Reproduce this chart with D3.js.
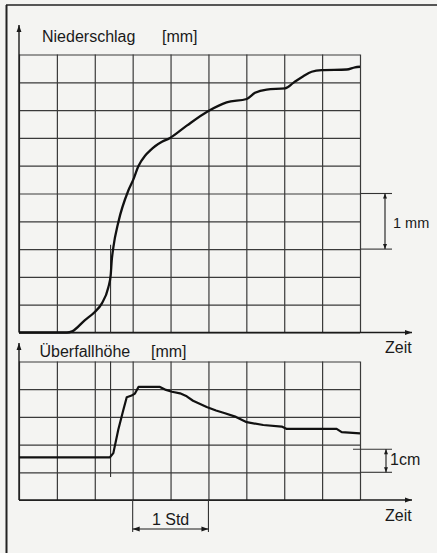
<!doctype html>
<html>
<head>
<meta charset="UTF-8">
<title>Niederschlag / Überfallhöhe</title>
<script src="https://cdn.jsdelivr.net/npm/d3@7"></script>
<style>
  body { margin: 0; background: #f4f4f2; }
  svg { display: block; }
  text { font-family: "Liberation Sans", Arial, sans-serif; fill: #1a1a1a; }
  .grid line { stroke: #3a3a3a; stroke-width: 1.2; }
  .grid path { display: none; }
</style>
</head>
<body>
<div id="chart"></div>
<script>
    // time in minutes, grid every 30 min (1 Std = 2 columns)
    var timeGrid = [0, 30, 60, 90, 120, 150, 180, 210, 240, 270];
    var rainGrid = [0, 0.5, 1, 1.5, 2, 2.5, 3, 3.5, 4, 4.5, 5];      // mm
    var levelGrid = [0, 12, 24, 36, 48, 60];                          // mm

    // Niederschlag (cumulative, mm)
    var rainTime = [0, 38, 42, 52, 60, 65.5, 70.7, 72.6, 73.4, 74.7, 78.6, 86.5, 90.5, 94.5, 99.8, 103.7, 107.7, 113.2, 119.6, 132.8, 149.6, 164.4, 180.3, 186.9, 196.1, 210.6, 217.2, 225.1, 231.7, 239.7, 259.5, 266, 270];
    var rainValue = [0, 0, 0.02, 0.22, 0.37, 0.52, 0.81, 1.03, 1.29, 1.53, 1.98, 2.55, 2.75, 2.99, 3.18, 3.27, 3.35, 3.43, 3.5, 3.72, 3.98, 4.14, 4.2, 4.31, 4.37, 4.39, 4.49, 4.61, 4.69, 4.72, 4.73, 4.77, 4.78];

    // Überfallhöhe (mm)
    var levelTime = [0, 72, 74.7, 78.6, 82.6, 85.3, 89.2, 91.8, 94.6, 111.6, 116.4, 121.1, 127.5, 132.8, 137.8, 148.6, 156, 163.1, 171.8, 180.3, 193.4, 208, 212, 251.5, 255.5, 270];
    var levelValue = [18.5, 18.5, 20.3, 30.4, 39.0, 44.5, 45.3, 46.1, 49.0, 49.0, 47.7, 46.9, 46.2, 44.9, 43.0, 40.3, 38.8, 37.6, 36.0, 33.7, 32.5, 31.8, 30.8, 30.8, 29.4, 28.9];

    var rainStart = 72.5;

    var width = 437, height = 553;

    var svg = d3.select("#chart").append("svg")
        .attr("width", width)
        .attr("height", height);

    var defs = svg.append("defs");
    defs.append("marker")
        .attr("id", "arr")
        .attr("viewBox", "0 0 10 10")
        .attr("refX", 10).attr("refY", 5)
        .attr("markerWidth", 9).attr("markerHeight", 7)
        .attr("markerUnits", "userSpaceOnUse")
        .attr("orient", "auto-start-reverse")
        .append("path")
        .attr("d", "M0,1.5 L10,5 L0,8.5 Z")
        .attr("fill", "#1a1a1a");
    defs.append("marker")
        .attr("id", "arrS")
        .attr("viewBox", "0 0 10 10")
        .attr("refX", 10).attr("refY", 5)
        .attr("markerWidth", 7).attr("markerHeight", 5)
        .attr("markerUnits", "userSpaceOnUse")
        .attr("orient", "auto-start-reverse")
        .append("path")
        .attr("d", "M0,1 L10,5 L0,9 Z")
        .attr("fill", "#1a1a1a");

    // outer frame
    svg.append("line").attr("x1", 6).attr("x2", width).attr("y1", 5).attr("y2", 5)
        .style("stroke", "#222").style("stroke-width", 1.6);
    svg.append("line").attr("x1", 6.5).attr("x2", 6.5).attr("y1", 5).attr("y2", height)
        .style("stroke", "#222").style("stroke-width", 2);

    var x = d3.scaleLinear().domain([0, 270]).range([19, 360]);
    var yTop = d3.scaleLinear().domain([0, 5]).range([332.5, 54.5]);
    var yBot = d3.scaleLinear().domain([0, 60]).range([500, 361.5]);

    function grid(yScale, yTicks) {
        var y0 = yScale.range()[0], y1 = yScale.range()[1];
        svg.append("g")
            .attr("class", "grid")
            .attr("transform", "translate(0," + y0 + ")")
            .call(d3.axisBottom(x).tickValues(timeGrid).tickSize(-(y0 - y1)).tickFormat(""));
        svg.append("g")
            .attr("class", "grid")
            .attr("transform", "translate(" + x(0) + ",0)")
            .call(d3.axisLeft(yScale).tickValues(yTicks).tickSize(-(x(270) - x(0))).tickFormat(""));
    }

    function axes(yScale, arrowTop) {
        var y0 = yScale.range()[0];
        svg.append("line")
            .attr("x1", x(0)).attr("x2", x(0))
            .attr("y1", y0).attr("y2", arrowTop)
            .style("stroke", "#1a1a1a").style("stroke-width", 1.4)
            .attr("marker-end", "url(#arr)");
        svg.append("line")
            .attr("x1", x(0)).attr("x2", 412)
            .attr("y1", y0).attr("y2", y0)
            .style("stroke", "#1a1a1a").style("stroke-width", 1.4)
            .attr("marker-end", "url(#arr)");
    }

    // ---- Niederschlag ----
    grid(yTop, rainGrid);
    axes(yTop, 25);

    svg.append("text").attr("x", 42).attr("y", 42).style("font-size", "16px").text("Niederschlag");
    svg.append("text").attr("x", 162).attr("y", 42).style("font-size", "16px").text("[mm]");
    svg.append("text").attr("x", 385).attr("y", 353).style("font-size", "16px").text("Zeit");

    svg.append("line")
        .attr("x1", x(rainStart)).attr("x2", x(rainStart))
        .attr("y1", yTop(1.58)).attr("y2", yTop(0))
        .style("stroke", "#333").style("stroke-width", 1.1);

    var rainData = rainTime.map(function (t, i) { return [t, rainValue[i]]; });
    svg.append("path")
        .datum(rainData)
        .attr("d", d3.line()
            .x(function (d) { return x(d[0]); })
            .y(function (d) { return yTop(d[1]); })
            .curve(d3.curveMonotoneX))
        .style("fill", "none")
        .style("stroke", "#111")
        .style("stroke-width", 2.3);

    // 1 mm dimension
    [1.5, 2.5].forEach(function (v) {
        svg.append("line")
            .attr("x1", x(270)).attr("x2", 392)
            .attr("y1", yTop(v)).attr("y2", yTop(v))
            .style("stroke", "#333").style("stroke-width", 1.1);
    });
    svg.append("line")
        .attr("x1", 385).attr("x2", 385)
        .attr("y1", yTop(2.5)).attr("y2", yTop(1.5))
        .style("stroke", "#1a1a1a").style("stroke-width", 1.1)
        .attr("marker-start", "url(#arrS)")
        .attr("marker-end", "url(#arrS)");
    svg.append("text").attr("x", 393).attr("y", 228).style("font-size", "14.5px").text("1 mm");

    // ---- Überfallhöhe ----
    grid(yBot, levelGrid);
    axes(yBot, 343);

    svg.append("text").attr("x", 39.5).attr("y", 356.5).style("font-size", "16px").text("Überfallhöhe");
    svg.append("text").attr("x", 151).attr("y", 356.5).style("font-size", "16px").text("[mm]");
    svg.append("text").attr("x", 385).attr("y", 521).style("font-size", "16px").text("Zeit");

    svg.append("line")
        .attr("x1", x(rainStart)).attr("x2", x(rainStart))
        .attr("y1", yBot(60)).attr("y2", yBot(10))
        .style("stroke", "#333").style("stroke-width", 1.1);

    var levelData = levelTime.map(function (t, i) { return [t, levelValue[i]]; });
    svg.append("path")
        .datum(levelData)
        .attr("d", d3.line()
            .x(function (d) { return x(d[0]); })
            .y(function (d) { return yBot(d[1]); }))
        .style("fill", "none")
        .style("stroke", "#111")
        .style("stroke-width", 2.2)
        .style("stroke-linejoin", "round");

    // 1 cm dimension
    svg.append("line")
        .attr("x1", 353).attr("x2", 392)
        .attr("y1", yBot(22)).attr("y2", yBot(22))
        .style("stroke", "#333").style("stroke-width", 1.1);
    svg.append("line")
        .attr("x1", x(270)).attr("x2", 392)
        .attr("y1", yBot(12)).attr("y2", yBot(12))
        .style("stroke", "#333").style("stroke-width", 1.1);
    svg.append("line")
        .attr("x1", 386).attr("x2", 386)
        .attr("y1", yBot(22)).attr("y2", yBot(12))
        .style("stroke", "#1a1a1a").style("stroke-width", 1.1)
        .attr("marker-start", "url(#arrS)")
        .attr("marker-end", "url(#arrS)");
    svg.append("text").attr("x", 390).attr("y", 465).style("font-size", "16px").text("1cm");

    // 1 Std dimension
    [90, 150].forEach(function (t) {
        svg.append("line")
            .attr("x1", x(t)).attr("x2", x(t))
            .attr("y1", yBot(0)).attr("y2", 532)
            .style("stroke", "#333").style("stroke-width", 1.1);
    });
    svg.append("line")
        .attr("x1", x(90)).attr("x2", x(150))
        .attr("y1", 529).attr("y2", 529)
        .style("stroke", "#1a1a1a").style("stroke-width", 1.1)
        .attr("marker-start", "url(#arr)")
        .attr("marker-end", "url(#arr)");
    svg.append("text").attr("x", x(120)).attr("y", 525)
        .attr("text-anchor", "middle").style("font-size", "16px").text("1 Std");
</script>
</body>
</html>
